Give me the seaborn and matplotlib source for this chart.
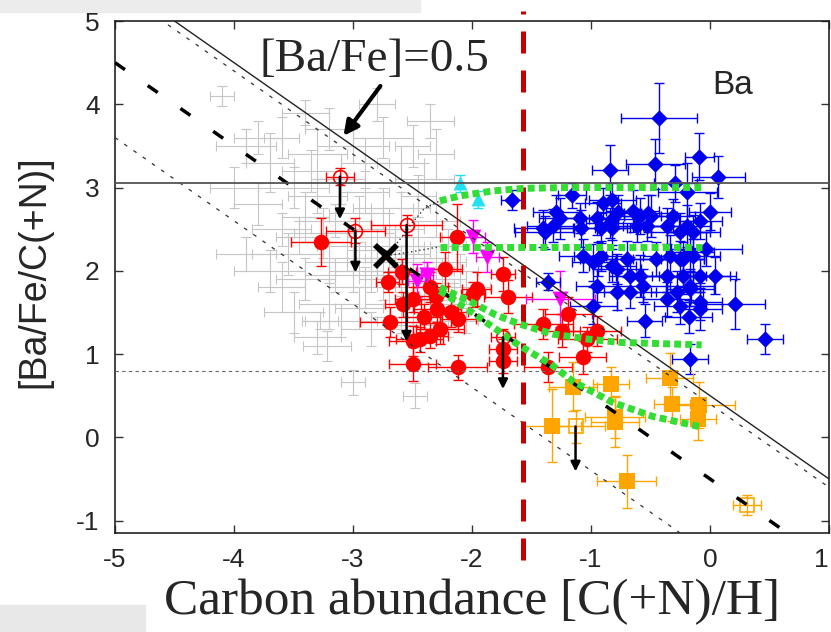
import numpy as np
import seaborn as sns
import matplotlib.pyplot as plt
import matplotlib.transforms as mtransforms
from matplotlib.patches import Rectangle

# ---------------- data ----------------
# grey comparison stars (error bars only)
gray_x = [-4.10, -3.90, -3.70, -3.60, -3.50, -3.40, -3.30, -3.20, -3.00, -2.90,
          -2.80, -2.75, -2.60, -2.50, -2.40, -2.30, -3.80, -3.60, -3.55, -3.40,
          -3.30, -3.20, -3.15, -3.05, -3.00, -2.95, -2.90, -2.85, -2.80, -2.75,
          -2.70, -2.65, -2.60, -2.55, -2.50, -2.45, -2.40, -2.35, -2.30, -2.25,
          -2.20, -2.15, -2.10, -2.05, -3.50, -3.30, -3.20, -3.10, -2.95, -2.85,
          -2.70, -2.60, -2.50, -2.40, -3.00, -2.48, -3.22, -3.28, -3.40, -3.60,
          -3.90, -4.00, -3.70, -3.25, -2.90, -2.60, -3.10, -2.45, -2.30, -2.75,
          -3.45, -2.20, -2.05, -3.80, -3.35, -2.35, -2.95, -2.80, -2.65, -2.55,
          -2.85, -3.15, -2.70, -2.40]
gray_y = [4.10, 3.50, 3.30, 3.60, 3.00, 3.90, 3.40, 3.70, 3.50, 3.30,
          4.00, 3.60, 3.30, 3.50, 3.10, 3.40, 2.80, 2.50, 2.20, 2.65,
          2.90, 2.10, 2.60, 2.30, 2.00, 2.70, 1.80, 2.40, 2.10, 1.90,
          2.50, 2.30, 2.00, 1.80, 2.15, 2.40, 2.00, 1.70, 2.10, 1.90,
          2.30, 1.60, 2.00, 1.80, 1.50, 1.20, 1.60, 1.40, 1.55, 1.30,
          1.60, 1.45, 1.35, 1.50, 0.66, 0.50, 1.10, 1.40, 1.90, 1.80,
          2.20, 3.00, 2.00, 2.45, 2.95, 2.75, 3.10, 2.90, 2.60, 2.75,
          2.40, 1.40, 1.40, 3.60, 3.20, 3.80, 2.15, 2.25, 1.95, 2.20,
          2.00, 1.95, 2.15, 1.85]
gray_xerr = [0.10, 0.25, 0.20, 0.15, 0.30, 0.20, 0.25, 0.20, 0.30, 0.20,
             0.15, 0.25, 0.20, 0.15, 0.25, 0.15, 0.20, 0.25, 0.30, 0.20,
             0.25, 0.20, 0.30, 0.25, 0.20, 0.25, 0.30, 0.20, 0.25, 0.20,
             0.30, 0.25, 0.20, 0.25, 0.30, 0.20, 0.25, 0.20, 0.25, 0.20,
             0.15, 0.20, 0.15, 0.20, 0.25, 0.20, 0.25, 0.30, 0.20, 0.25,
             0.20, 0.25, 0.20, 0.15, 0.10, 0.10, 0.20, 0.15, 0.25, 0.20,
             0.25, 0.20, 0.30, 0.25, 0.20, 0.25, 0.20, 0.15, 0.20, 0.25,
             0.20, 0.15, 0.10, 0.20, 0.25, 0.20, 0.25, 0.20, 0.25, 0.20,
             0.30, 0.25, 0.20, 0.25]
gray_yerr = [0.12, 0.20, 0.35, 0.25, 0.25, 0.15, 0.30, 0.25, 0.20, 0.30,
             0.20, 0.25, 0.20, 0.25, 0.20, 0.30, 0.25, 0.20, 0.25, 0.30,
             0.20, 0.25, 0.20, 0.30, 0.25, 0.20, 0.25, 0.30, 0.20, 0.25,
             0.20, 0.25, 0.30, 0.20, 0.25, 0.20, 0.30, 0.25, 0.20, 0.25,
             0.20, 0.25, 0.20, 0.20, 0.25, 0.20, 0.30, 0.20, 0.25, 0.20,
             0.25, 0.20, 0.25, 0.20, 0.15, 0.15, 0.18, 0.10, 0.25, 0.30,
             0.20, 0.25, 0.25, 0.30, 0.25, 0.20, 0.30, 0.25, 0.20, 0.25,
             0.20, 0.20, 0.15, 0.20, 0.25, 0.20, 0.20, 0.25, 0.20, 0.30,
             0.25, 0.20, 0.30, 0.20]

# red filled circles
red_x = [-3.27, -2.59, -2.71, -2.13, -2.23, -1.74, -1.96, -1.99, -1.70, -2.35,
         -2.29, -2.18, -2.12, -2.27, -2.35, -2.44, -2.50, -2.12, -1.74, -1.74,
         -2.69, -2.58, -2.50, -2.50, -1.19, -1.40, -1.24, -0.95, -1.03, -1.07,
         -1.36, -2.40, -2.30]
red_y = [2.35, 1.99, 1.87, 2.40, 2.02, 1.96, 1.78, 1.72, 1.69, 1.81,
         1.54, 1.50, 1.42, 1.30, 1.22, 1.18, 0.88, 0.84, 1.06, 0.92,
         1.39, 1.60, 1.66, 1.16, 1.48, 1.36, 1.28, 1.28, 1.18, 0.96,
         0.84, 1.45, 1.70]
red_xerr = [0.25, 0.12, 0.10, 0.14, 0.15, 0.10, 0.12, 0.10, 0.20, 0.15,
            0.20, 0.15, 0.15, 0.20, 0.15, 0.20, 0.20, 0.25, 0.12, 0.12,
            0.25, 0.15, 0.15, 0.20, 0.20, 0.25, 0.15, 0.20, 0.25, 0.20,
            0.20, 0.15, 0.15]
red_yerr = [0.29, 0.15, 0.12, 0.40, 0.20, 0.20, 0.20, 0.15, 0.20, 0.18,
            0.15, 0.18, 0.15, 0.18, 0.15, 0.15, 0.20, 0.15, 0.12, 0.15,
            0.18, 0.15, 0.15, 0.18, 0.20, 0.18, 0.20, 0.18, 0.15, 0.20,
            0.18, 0.15, 0.15]

# red open circles = upper limits (arrow down to red_lim_end)
red_lim_x = [-3.11, -2.98, -2.55, -1.74]
red_lim_y = [3.13, 2.48, 2.55, 1.20]
red_lim_xerr = [0.12, 0.25, 0.30, 0.10]
red_lim_yerr = [0.10, 0.15, 0.12, 0.10]
red_lim_end = [2.62, 1.98, 1.15, 0.58]

# blue diamonds
blue_x = [-0.43, -0.84, -0.46, -0.09, 0.07, -1.66, -1.16, -0.90, -0.82, -0.29,
          -0.19, 0.00, -0.65, -1.40, -1.29, -1.26, -1.32, -1.09, -1.08, -0.95,
          -0.92, -0.82, -0.82, -0.61, -0.59, -0.53, -0.50, -0.36, -0.31, -0.25,
          -0.19, -0.14, -0.08, -1.07, -0.98, -0.92, -0.82, -0.70, -0.45, -0.34,
          -0.23, -0.17, -0.03, -0.95, -0.78, -0.67, -0.59, -0.36, -0.23, -0.08,
          0.04, -0.36, -0.28, -0.17, -0.08, 0.21, -1.36, -0.98, -0.94, -0.78,
          -0.67, -0.56, -0.55, -0.25, -0.14, -0.17, -0.25, -0.08, -0.18, 0.46,
          -0.17, -0.77, -0.52, -1.39, -0.84]
blue_y = [3.84, 3.21, 3.28, 3.37, 3.13, 2.85, 2.91, 2.82, 2.85, 3.05,
          2.95, 2.71, 2.72, 2.51, 2.71, 2.63, 2.54, 2.63, 2.51, 2.63,
          2.51, 2.62, 2.51, 2.54, 2.66, 2.54, 2.66, 2.54, 2.66, 2.47,
          2.54, 2.47, 2.60, 2.18, 2.10, 2.18, 2.06, 2.14, 2.14, 2.18,
          2.14, 2.22, 2.26, 1.82, 1.75, 1.75, 1.94, 1.94, 1.94, 1.94,
          1.94, 1.66, 1.75, 1.78, 1.63, 1.60, 1.87, 1.58, 2.14, 2.02,
          1.94, 1.82, 1.40, 2.14, 2.18, 1.82, 1.58, 1.54, 1.45, 1.18,
          0.94, 2.71, 2.69, 2.46, 2.57]
blue_xerr = [0.32, 0.15, 0.25, 0.12, 0.22, 0.10, 0.12, 0.15, 0.20, 0.18,
             0.25, 0.18, 0.22, 0.25, 0.20, 0.18, 0.22, 0.15, 0.25, 0.18,
             0.22, 0.20, 0.15, 0.25, 0.18, 0.20, 0.22, 0.20, 0.18, 0.25,
             0.20, 0.22, 0.18, 0.20, 0.18, 0.22, 0.20, 0.25, 0.20, 0.22,
             0.18, 0.20, 0.30, 0.18, 0.20, 0.22, 0.20, 0.22, 0.20, 0.25,
             0.18, 0.20, 0.22, 0.20, 0.18, 0.25, 0.10, 0.20, 0.15, 0.20,
             0.18, 0.22, 0.15, 0.20, 0.22, 0.20, 0.22, 0.18, 0.20, 0.15,
             0.15, 0.18, 0.20, 0.25, 0.20]
blue_yerr = [0.42, 0.30, 0.30, 0.28, 0.25, 0.12, 0.15, 0.18, 0.20, 0.22,
             0.35, 0.22, 0.25, 0.22, 0.20, 0.25, 0.20, 0.18, 0.22, 0.20,
             0.18, 0.25, 0.20, 0.20, 0.22, 0.18, 0.25, 0.22, 0.20, 0.22,
             0.25, 0.20, 0.22, 0.20, 0.22, 0.18, 0.20, 0.22, 0.20, 0.25,
             0.20, 0.22, 0.20, 0.20, 0.22, 0.20, 0.25, 0.20, 0.22, 0.20,
             0.22, 0.20, 0.25, 0.20, 0.22, 0.30, 0.10, 0.22, 0.20, 0.18,
             0.22, 0.20, 0.20, 0.22, 0.20, 0.20, 0.22, 0.25, 0.20, 0.18,
             0.18, 0.20, 0.22, 0.20, 0.18]

# orange squares
orange_x = [-1.33, -1.15, -0.83, -0.80, -0.80, -0.34, -0.32, -0.09, -0.10, -0.70]
orange_y = [0.14, 0.61, 0.64, 0.24, 0.18, 0.71, 0.40, 0.39, 0.22, -0.53]
orange_xerr = [0.25, 0.20, 0.15, 0.25, 0.20, 0.20, 0.15, 0.30, 0.15, 0.25]
orange_yerr = [0.44, 0.30, 0.20, 0.25, 0.30, 0.30, 0.20, 0.28, 0.25, 0.32]
# open orange squares (first one is an upper limit)
orange_open_x = [-1.13, 0.31]
orange_open_y = [0.13, -0.81]
orange_open_xerr = [0.25, 0.12]
orange_open_yerr = [0.20, 0.12]
orange_lim_end = [-0.41]

# magenta inverted triangles
mag_x = [-1.26, -1.99, -1.87, -2.46, -2.38]
mag_y = [1.66, 2.41, 2.17, 1.88, 1.95]
mag_xerr = [0.29, 0.10, 0.10, 0.08, 0.05]
mag_yerr = [0.34, 0.20, 0.18, 0.20, 0.15]

# cyan triangles
cyan_x = [-2.10, -1.95]
cyan_y = [3.05, 2.86]
cyan_yerr = [0.10, 0.10]

# model tracks (green dotted)
g1_x = [-2.27, -2.10, -1.82, -1.57, -1.20, -0.07]
g1_y = [2.84, 2.90, 2.96, 2.99, 3.00, 3.00]
g2_x = [-2.27, -0.07]
g2_y = [2.29, 2.29]
g3_x = [-2.27, -2.00, -1.80, -1.60, -1.32, -1.03, -0.76, -0.07]
g3_y = [1.80, 1.62, 1.47, 1.36, 1.24, 1.18, 1.14, 1.11]
g4_x = [-2.27, -2.00, -1.80, -1.60, -1.34, -1.15, -0.82, -0.48, -0.06]
g4_y = [1.76, 1.50, 1.30, 1.10, 0.88, 0.67, 0.42, 0.25, 0.12]

# black dotted tracks from the starting point (X)
start_x, start_y = -2.72, 2.18
t1_x = [-2.72, -2.62, -2.50, -2.40, -2.27]
t1_y = [2.18, 2.35, 2.58, 2.75, 2.84]
t2_x = [-2.72, -2.50, -2.27]
t2_y = [2.18, 2.23, 2.29]
t3_x = [-2.72, -2.50, -2.27]
t3_y = [2.18, 1.98, 1.79]

# reference lines  y = c - x
diag_solid = 0.5
diag_fine = [0.4, -1.4]
diag_thick = -0.5
hline_solid = 3.05
hline_dotted = 0.8
vline_red = -1.57

# ---------------- plot ----------------
sns.set_theme(style="ticks")
plt.rcParams['font.family'] = ['Liberation Sans', 'DejaVu Sans']
plt.rcParams['axes.unicode_minus'] = False

fig = plt.figure(figsize=(8.31, 6.32), dpi=100)
ax = fig.add_axes([0.1384, 0.1566, 0.8592, 0.8101])
ax.set_xlim(-5, 1)
ax.set_ylim(-1.15, 5.0)

# slide leftovers
fig.add_artist(Rectangle((0, 1 - 12 / 632), 420 / 831, 12 / 632, transform=fig.transFigure,
                         color='#ececec', zorder=-5))
fig.add_artist(Rectangle((0, 0), 145 / 831, 27 / 632, transform=fig.transFigure,
                         color='#e8e8e8', zorder=-5))


def ebar(x, y, xe, ye, color, lw=1.0, z=2):
    ax.errorbar(x, y, xerr=xe, yerr=ye, fmt='none', ecolor=color, elinewidth=lw,
                capsize=3.5, capthick=lw, zorder=z)


ebar(gray_x, gray_y, gray_xerr, gray_yerr, '#c6c6c6', lw=0.8, z=1)

# error bars
ebar(red_x, red_y, red_xerr, red_yerr, 'red', z=3)
ebar(red_lim_x, red_lim_y, red_lim_xerr, red_lim_yerr, 'red', z=3)
ebar(mag_x, mag_y, mag_xerr, mag_yerr, 'magenta', z=3)
ebar(cyan_x, cyan_y, None, cyan_yerr, '#22e0f0', z=3)
ebar(blue_x, blue_y, blue_xerr, blue_yerr, '#0000ee', z=3)
ebar(orange_x, orange_y, orange_xerr, orange_yerr, 'orange', z=3)
ebar(orange_open_x, orange_open_y, orange_open_xerr, orange_open_yerr, 'orange', z=3)

# markers
sns.scatterplot(x=red_x, y=red_y, marker='o', s=125, color='red', linewidth=0, ax=ax, zorder=4)
sns.scatterplot(x=mag_x, y=mag_y, marker='v', s=130, color='magenta', linewidth=0, ax=ax, zorder=4)
sns.scatterplot(x=cyan_x, y=cyan_y, marker='^', s=100, color='#22e0f0', linewidth=0, ax=ax, zorder=4)
sns.scatterplot(x=blue_x, y=blue_y, marker='D', s=70, color='#0000ee', linewidth=0, ax=ax, zorder=4)
sns.scatterplot(x=orange_x, y=orange_y, marker='s', s=125, color='orange', linewidth=0, ax=ax, zorder=4)
ax.plot(red_lim_x, red_lim_y, 'o', ms=10, mfc='none', mec='red', mew=1.2, zorder=4)
ax.plot(orange_open_x, orange_open_y, 's', ms=10, mfc='none', mec='orange', mew=1.2, zorder=4)

# reference lines
xx = np.array([-5.0, 1.0])
ax.plot(xx, diag_solid - xx, color='#222222', lw=1.0, zorder=5)
for c in diag_fine:
    ax.plot(xx, c - xx, color='#333333', lw=0.9, dashes=(3, 6), zorder=5)
ax.plot(xx, diag_thick - xx, color='black', lw=2.5, dashes=(3.5, 8), zorder=5)
ax.axhline(hline_solid, color='#555555', lw=1.3, zorder=5)
ax.axhline(hline_dotted, color='#666666', lw=0.8, dashes=(3, 3), zorder=5)

trans = mtransforms.blended_transform_factory(ax.transData, ax.transAxes)
ax.plot([vline_red, vline_red], [-0.053, 1.02], transform=trans, clip_on=False,
        color='#c40000', lw=3.6, dashes=(4.4, 3.4), zorder=6)

# model tracks
for gx, gy in [(g1_x, g1_y), (g2_x, g2_y), (g3_x, g3_y), (g4_x, g4_y)]:
    sns.lineplot(x=gx, y=gy, color='#33dd33', lw=5, dashes=False, sort=False,
                 ax=ax, zorder=6).lines[-1].set_dashes((1, 0.6))
for tx, ty in [(t1_x, t1_y), (t2_x, t2_y), (t3_x, t3_y)]:
    ax.plot(tx, ty, color='#333333', lw=1.0, dashes=(1, 2), zorder=6)

# upper-limit arrows
for x0, y0, y1 in zip(red_lim_x, red_lim_y, red_lim_end):
    ax.annotate('', xy=(x0, y1), xytext=(x0, y0),
                arrowprops=dict(arrowstyle='-|>', color='black', lw=1.8, mutation_scale=14,
                                shrinkA=0, shrinkB=0), zorder=7)
ax.annotate('', xy=(orange_open_x[0], orange_lim_end[0]), xytext=(orange_open_x[0], orange_open_y[0]),
            arrowprops=dict(arrowstyle='-|>', color='black', lw=1.8, mutation_scale=14,
                            shrinkA=0, shrinkB=0), zorder=7)

ax.plot([start_x], [start_y], 'x', color='black', ms=16, mew=4, zorder=8)

# annotations
ax.text(-2.82, 4.53, '[Ba/Fe]=0.5', family='Liberation Serif', fontsize=34,
        ha='center', va='center', zorder=9)
ax.annotate('', xy=(-3.08, 3.62), xytext=(-2.77, 4.22),
            arrowprops=dict(arrowstyle='-|>', color='black', lw=3, mutation_scale=22,
                            shrinkA=0, shrinkB=0), zorder=9)
ax.text(0.19, 4.22, 'Ba', fontsize=24, ha='center', va='center', zorder=9)

# axes styling
ax.set_xticks([-5, -4, -3, -2, -1, 0, 1])
ax.set_yticks([-1, 0, 1, 2, 3, 4, 5])
ax.tick_params(direction='in', length=6, width=1, top=True, right=True,
               labelsize=19, color='#333333')
ax.tick_params(axis='y', pad=11)
ax.tick_params(axis='x', pad=11)
ax.get_xticklabels()[-1].set_horizontalalignment('right')
for s in ax.spines.values():
    s.set_color('#222222')
    s.set_linewidth(1.2)

ax.set_xlabel('Carbon abundance [C(+N)/H]', family='Liberation Serif', fontsize=37)
ax.xaxis.set_label_coords(0.5, -0.09)
ax.set_ylabel('[Ba/Fe/C(+N)]', fontsize=27)
ax.yaxis.set_label_coords(-0.088, 0.51)

fig.savefig('out.png', dpi=100)
